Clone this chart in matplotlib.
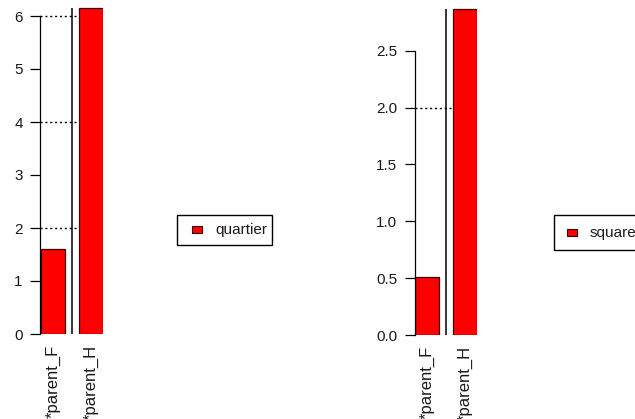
import matplotlib
matplotlib.use("Agg")
import matplotlib.pyplot as plt
from matplotlib.patches import Rectangle

plt.rcParams['font.family'] = ['Liberation Sans', 'DejaVu Sans']

# donnees
categories = ["*parent_F", "*parent_H"]
quartier = [1.6, 6.16]
square = [0.51, 2.87]
quartier_ticks = [0, 1, 2, 3, 4, 5, 6]
square_ticks = [0.0, 0.5, 1.0, 1.5, 2.0, 2.5]
ref_lines = [2, 4, 6]

W, H = 635, 419
fig = plt.figure(figsize=(W / 100, H / 100), dpi=100)


def px_axes(x0, x1, y_top, y_bot):
    # position en pixels (origine en haut a gauche) -> fraction de figure
    return [x0 / W, (H - y_bot) / H, (x1 - x0) / W, (y_bot - y_top) / H]


def panel(rect, values, ticks, ytop, fmt):
    ax = fig.add_axes(rect)
    pos = [0, 1.6]
    ax.hlines(ref_lines, -0.54, 2.1, colors="black", linestyles=(0, (1.5, 2)), lw=1, zorder=1)
    ax.bar(pos, values, width=1, color="#ff0000", edgecolor="#3a0000", lw=0.9, zorder=2)
    ax.vlines(0.8, 0, max(values), colors="black", lw=1.1, zorder=3)
    ax.set_xlim(-0.54, 2.1)
    ax.set_ylim(0, ytop)
    for s in ["top", "right", "bottom"]:
        ax.spines[s].set_visible(False)
    ax.spines["left"].set_bounds(ticks[0], ticks[-1])
    ax.spines["left"].set_linewidth(0.9)
    ax.set_yticks(ticks)
    ax.set_yticklabels([fmt.format(t) for t in ticks], fontsize=11, color="#1a1a1a")
    ax.tick_params(axis="y", length=7.5, width=0.9, pad=5)
    ax.set_xticks(pos)
    ax.set_xticklabels(categories, rotation=90, fontsize=12, va="top", color="#1a1a1a")
    ax.tick_params(axis="x", length=0, pad=7.5)
    return ax


panel(px_axes(40.2, 102.8, 0, 334), quartier, quartier_ticks, 334 / 53, "{:g}")
panel(px_axes(414.5, 477.1, 0, 335), square, square_ticks, 335 / 113.7, "{:.1f}")


def legend_box(x0, x1, y0, y1, mx, label):
    fig.add_artist(Rectangle((x0 / W, (H - y1) / H), (x1 - x0) / W, (y1 - y0) / H,
                             transform=fig.transFigure, fill=False, ec="black", lw=1))
    yc = (y0 + y1) / 2
    fig.add_artist(Rectangle((mx / W, (H - yc - 3.5) / H), 10 / W, 7 / H,
                             transform=fig.transFigure, fc="#ff0000", ec="#3a0000", lw=0.8))
    fig.text((mx + 23) / W, (H - yc) / H, label, ha="left", va="center",
             fontsize=11, color="#1a1a1a")


legend_box(177, 272, 215, 245, 192, "quartier")
legend_box(554, 650, 215, 250, 567, "square")

fig.savefig("out.png", dpi=100)
